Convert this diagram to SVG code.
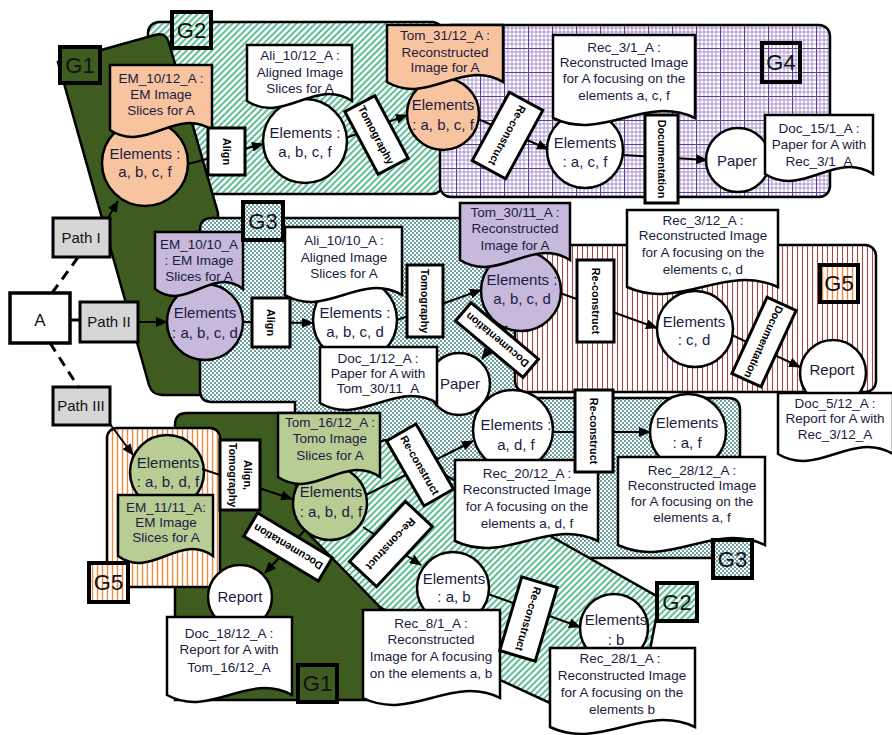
<svg xmlns="http://www.w3.org/2000/svg" width="892" height="735" viewBox="0 0 892 735">
<defs>
  <pattern id="hatch" width="4.5" height="4.5" patternUnits="userSpaceOnUse" patternTransform="rotate(45)">
    <rect width="4.5" height="4.5" fill="#fff"/>
    <line x1="1.2" y1="0" x2="1.2" y2="4.5" stroke="#3fb07f" stroke-width="1.7"/>
  </pattern>
  <pattern id="dots" width="4" height="4" patternUnits="userSpaceOnUse">
    <rect width="4" height="4" fill="#fff"/>
    <circle cx="1" cy="1" r="1" fill="#3d8383"/>
    <circle cx="3" cy="3" r="1" fill="#3d8383"/>
  </pattern>
  <pattern id="grid" width="24" height="24" patternUnits="userSpaceOnUse">
    <rect width="24" height="24" fill="#fff"/>
    <path d="M4,0V24M8,0V24M12,0V24M16,0V24M20,0V24M0,4H24M0,8H24M0,12H24M0,16H24M0,20H24" stroke="#9478c4" stroke-width="0.8"/>
    <path d="M0.5,0V24M0,0.5H24" stroke="#5e3f92" stroke-width="1.2"/>
  </pattern>
  <pattern id="brown" width="5" height="5" patternUnits="userSpaceOnUse">
    <rect width="5" height="5" fill="#fff"/>
    <line x1="2.5" y1="0" x2="2.5" y2="5" stroke="#a44848" stroke-width="1.1"/>
  </pattern>
  <pattern id="orange" width="5" height="5" patternUnits="userSpaceOnUse">
    <rect width="5" height="5" fill="#fff"/>
    <line x1="2.5" y1="0" x2="2.5" y2="5" stroke="#ee8a3c" stroke-width="1.4"/>
  </pattern>
  <marker id="arr" markerWidth="12" markerHeight="10" refX="11" refY="5" orient="auto" markerUnits="userSpaceOnUse">
    <path d="M0,0 L12,5 L0,10 Z" fill="#000"/>
  </marker>
</defs>
<style>
  .rg{stroke:#000;stroke-width:2.5}
  .gl{stroke:#000;stroke-width:4}
  .gt{font-family:'Liberation Sans','Noto Sans',Arial,sans-serif;font-size:22px;fill:#111;text-anchor:middle}
  .sh{stroke:#000;stroke-width:2.5}
  .w{fill:#fff}
  .or{fill:#f8c4a0}
  .lv{fill:#c6b9dc}
  .gr{fill:#b8cd93}
  .t{font-family:'Liberation Sans','Noto Sans',Arial,sans-serif;font-size:13.5px;fill:#1b1b40;text-anchor:middle}
  .c{font-size:15px}
  .p{font-size:15px;fill:#111}
  .lb{fill:#fff;stroke:#000;stroke-width:3}
  .lt{font-size:10.8px;font-weight:bold;fill:#000}
  .cn{fill:none;stroke:#000;stroke-width:2}
  .ar{marker-end:url(#arr)}
  .ds{stroke-dasharray:10 7;stroke-width:3}
  .pb{fill:#d6d6d6;stroke:#000;stroke-width:3}
</style>

<g id="regions">
  <rect id="G2-top" class="rg" x="148" y="22" width="295" height="172" rx="11" fill="url(#hatch)"/>
  <rect id="G4" class="rg" x="440" y="25" width="390" height="172" rx="11" fill="url(#grid)"/>
  <path id="G1-top" class="rg" fill="#3e5c1f" d="M58,62 L155,35 Q166,32 169,43 L218,213 V395 H162 Q152,395 149,385 Z"/>
  <path id="G3" class="rg" fill="url(#dots)" d="M212,218 H525 V398 H728 Q740,398 740,410 V546 Q740,558 728,558 H295 V402 H212 Q200,402 200,390 V230 Q200,218 212,218 Z"/>
  <rect id="G5-right" class="rg" x="515" y="245" width="361" height="147" rx="11" fill="url(#brown)"/>
  <path id="G1-bottom" class="rg" fill="#3e5c1f" d="M187,413 H300 V522 L380,607 V700 H175 V425 Q175,413 187,413 Z"/>
  <rect id="G5-left" class="rg" x="107" y="428" width="113" height="159" rx="10" fill="url(#orange)"/>
  <path id="G2-bottom" class="rg" fill="url(#hatch)" d="M295,470 L385,440 L545,533 L660,598 L650,650 L550,703 L500,680 L380,607 L300,525 Z"/>
</g>

<g id="paths">
  <g id="node-A"><rect x="10" y="293" width="60" height="50" fill="#fff" stroke="#000" stroke-width="3.5"/><text class="t p" x="40" y="326" style="font-size:17px">A</text></g>
  <g id="path-I"><rect class="pb" x="53" y="218" width="57" height="39"/><text class="t p" x="81" y="243">Path I</text></g>
  <g id="path-II"><rect class="pb" x="80" y="302" width="58" height="40"/><text class="t p" x="109" y="327">Path II</text></g>
  <g id="path-III"><rect class="pb" x="53" y="387" width="57" height="38"/><text class="t p" x="81" y="411">Path III</text></g>
</g>

<g id="nodes">
  <g id="EM_10_12_A">
    <circle class="sh or" cx="145" cy="163" r="43"/>
    <path class="sh or" d="M110,65 H212 V130 C176.3,106 145.7,154 110,130 Z"/>
    <text class="t" x="161" y="83">EM_10/12_A :</text><text class="t" x="161" y="99">EM Image</text><text class="t" x="161" y="115">Slices for A</text>
    <text class="t c" x="145" y="159">Elements :</text><text class="t c" x="145" y="177">a, b, c, f</text>
  </g>
  <g id="Ali_10_12_A">
    <circle class="sh w" cx="305" cy="141" r="42"/>
    <path class="sh w" d="M247,45 H352 V101 C315.25,77 283.75,125 247,101 Z"/>
    <text class="t" x="300" y="60">Ali_10/12_A :</text><text class="t" x="300" y="77">Aligned Image</text><text class="t" x="300" y="93">Slices for A</text>
    <text class="t c" x="305" y="138">Elements :</text><text class="t c" x="305" y="157">a, b, c, f</text>
  </g>
  <g id="Tom_31_12_A">
    <circle class="sh or" cx="443" cy="114" r="36"/>
    <path class="sh or" d="M387,25 H503 V82 C462.4,58 427.6,106 387,82 Z"/>
    <text class="t" x="445" y="40">Tom_31/12_A :</text><text class="t" x="445" y="57">Reconstructed</text><text class="t" x="445" y="72">Image for A</text>
    <text class="t c" x="443" y="110">Elements</text><text class="t c" x="443" y="130">: a, b, c, f</text>
  </g>
  <g id="Rec_3_1_A">
    <circle class="sh w" cx="585" cy="150" r="38"/>
    <path class="sh w" d="M553,35 H695 V118 C645.3,94 602.7,142 553,118 Z"/>
    <text class="t" x="624" y="52">Rec_3/1_A :</text><text class="t" x="624" y="67">Reconstructed Image</text><text class="t" x="624" y="83">for A focusing on the</text><text class="t" x="624" y="100">elements a, c, f</text>
    <text class="t c" x="585" y="148">Elements</text><text class="t c" x="585" y="167">: a, c, f</text>
  </g>
  <g id="Doc_15_1_A">
    <circle class="sh w" cx="738" cy="160" r="32"/>
    <path class="sh w" d="M765,115 H873 V174 C835.2,150 802.8,198 765,174 Z"/>
    <text class="t" x="819" y="133">Doc_15/1_A :</text><text class="t" x="819" y="149">Paper for A with</text><text class="t" x="819" y="166">Rec_3/1_A</text>
    <text class="t c" x="737" y="166">Paper</text>
  </g>
  <g id="EM_10_10_A">
    <circle class="sh lv" cx="205" cy="322" r="38"/>
    <path class="sh lv" d="M155,232 H243 V289 C212.2,265 185.8,313 155,289 Z"/>
    <text class="t" x="199" y="249">EM_10/10_A</text><text class="t" x="199" y="265">: EM Image</text><text class="t" x="199" y="281">Slices for A</text>
    <text class="t c" x="205" y="318">Elements</text><text class="t c" x="205" y="338">: a, b, c, d</text>
  </g>
  <g id="Ali_10_10_A">
    <circle class="sh w" cx="355" cy="320" r="42"/>
    <path class="sh w" d="M285,227 H402 V295 C361.05,271 325.95,319 285,295 Z"/>
    <text class="t" x="344" y="245">Ali_10/10_A :</text><text class="t" x="344" y="262">Aligned Image</text><text class="t" x="344" y="278">Slices for A</text>
    <text class="t c" x="355" y="318">Elements :</text><text class="t c" x="355" y="337">a, b, c, d</text>
  </g>
  <g id="Tom_30_11_A">
    <circle class="sh lv" cx="521" cy="291" r="40"/>
    <path class="sh lv" d="M460,203 H570 V260 C531.5,236 498.5,284 460,260 Z"/>
    <text class="t" x="515" y="217">Tom_30/11_A :</text><text class="t" x="515" y="233">Reconstructed</text><text class="t" x="515" y="250">Image for A</text>
    <text class="t c" x="522" y="285">Elements :</text><text class="t c" x="522" y="304">a, b, c, d</text>
  </g>
  <g id="Doc_1_12_A">
    <circle class="sh w" cx="459" cy="384" r="31"/>
    <path class="sh w" d="M320,347 H437 V403 C396.05,379 360.95,427 320,403 Z"/>
    <text class="t" x="378" y="363">Doc_1/12_A :</text><text class="t" x="378" y="378">Paper for A with</text><text class="t" x="378" y="393">Tom_30/11_A</text>
    <text class="t c" x="460" y="389">Paper</text>
  </g>
  <g id="Rec_3_12_A">
    <circle class="sh w" cx="695" cy="329" r="38"/>
    <path class="sh w" d="M627,210 H778 V287 C725.15,263 679.85,311 627,287 Z"/>
    <text class="t" x="703" y="225">Rec_3/12_A :</text><text class="t" x="703" y="240">Reconstructed Image</text><text class="t" x="703" y="257">for A focusing on the</text><text class="t" x="703" y="274">elements c, d</text>
    <text class="t c" x="694" y="327">Elements</text><text class="t c" x="694" y="345">: c, d</text>
  </g>
  <g id="Doc_5_12_A">
    <circle class="sh w" cx="833" cy="373" r="33"/>
    <path class="sh w" d="M778,393 H893 V454 C852.1,430 817.9,478 778,454 Z"/>
    <text class="t" x="835" y="408">Doc_5/12_A :</text><text class="t" x="835" y="423">Report for A with</text><text class="t" x="835" y="439">Rec_3/12_A</text>
    <text class="t c" x="832" y="375">Report</text>
  </g>
  <g id="EM_11_11_A">
    <circle class="sh gr" cx="167" cy="472" r="37"/>
    <path class="sh gr" d="M118,495 H213 V556 C179.75,532 151.25,580 118,556 Z"/>
    <text class="t" x="166" y="512">EM_11/11_A:</text><text class="t" x="166" y="527">EM Image</text><text class="t" x="166" y="542">Slices for A</text>
    <text class="t c" x="168" y="468">Elements</text><text class="t c" x="168" y="487">: a, b, d, f</text>
  </g>
  <g id="Tom_16_12_A">
    <circle class="sh gr" cx="330" cy="503" r="37"/>
    <path class="sh gr" d="M278,413 H380 V477 C344.3,453 313.7,501 278,477 Z"/>
    <text class="t" x="330" y="427">Tom_16/12_A :</text><text class="t" x="330" y="443">Tomo Image</text><text class="t" x="330" y="460">Slices for A</text>
    <text class="t c" x="331" y="497">Elements</text><text class="t c" x="331" y="517">: a, b, d, f</text>
  </g>
  <g id="Doc_18_12_A">
    <circle class="sh w" cx="240" cy="597" r="32"/>
    <path class="sh w" d="M167,617 H292 V695 C248.25,671 210.75,719 167,695 Z"/>
    <text class="t" x="229" y="638">Doc_18/12_A :</text><text class="t" x="229" y="654">Report for A with</text><text class="t" x="229" y="672">Tom_16/12_A</text>
    <text class="t c" x="240" y="602">Report</text>
  </g>
  <g id="Rec_20_12_A">
    <circle class="sh w" cx="513" cy="430" r="40"/>
    <path class="sh w" d="M455,460 H598 V541 C547.95,517 505.05,565 455,541 Z"/>
    <text class="t" x="527" y="478">Rec_20/12_A :</text><text class="t" x="527" y="494">Reconstructed Image</text><text class="t" x="527" y="511">for A focusing on the</text><text class="t" x="527" y="528">elements a, d, f</text>
    <text class="t c" x="516" y="430">Elements :</text><text class="t c" x="516" y="450">a, d, f</text>
  </g>
  <g id="Rec_28_12_A">
    <circle class="sh w" cx="688" cy="432" r="38"/>
    <path class="sh w" d="M618,457 H765 V545 C713.55,521 669.45,569 618,545 Z"/>
    <text class="t" x="692" y="475">Rec_28/12_A :</text><text class="t" x="692" y="490">Reconstructed Image</text><text class="t" x="692" y="506">for A focusing on the</text><text class="t" x="692" y="522">elements a, f</text>
    <text class="t c" x="687" y="428">Elements</text><text class="t c" x="687" y="448">: a, f</text>
  </g>
  <g id="Rec_8_1_A">
    <circle class="sh w" cx="453" cy="588" r="36"/>
    <path class="sh w" d="M363,610 H500 V698 C452.05,674 410.95,722 363,698 Z"/>
    <text class="t" x="431" y="628">Rec_8/1_A :</text><text class="t" x="431" y="644">Reconstructed</text><text class="t" x="431" y="661">Image for A focusing</text><text class="t" x="431" y="678">on the elements a, b</text>
    <text class="t c" x="454" y="584">Elements</text><text class="t c" x="454" y="602">: a, b</text>
  </g>
  <g id="Rec_28_1_A">
    <circle class="sh w" cx="614" cy="628" r="34"/>
    <path class="sh w" d="M550,648 H695 V727 C644.25,703 600.75,751 550,727 Z"/>
    <text class="t" x="620" y="663">Rec_28/1_A :</text><text class="t" x="622" y="680">Reconstructed Image</text><text class="t" x="622" y="697">for A focusing on the</text><text class="t" x="622" y="714">elements b</text>
    <text class="t c" x="616" y="625">Elements</text><text class="t c" x="616" y="645">: b</text>
  </g>
</g>

<g id="connectors">
  <path class="cn ds" d="M52,293 L79,256"/>
  <path class="cn ds" d="M50,343 L79,388"/>
  <path class="cn" style="stroke-width:3" d="M70,320 H80"/>
  <path class="cn ar" d="M108,218 L118,201"/>
  <path class="cn ar" d="M138,322 H167"/>
  <path class="cn ar" d="M110,424 L133,455"/>
  <path class="cn ar" d="M188,164 L263,144"/>
  <path class="cn ar" d="M346,138 L407,115"/>
  <path class="cn ar" d="M478,119 L548,149"/>
  <path class="cn ar" d="M623,155 L707,160"/>
  <path class="cn ar" d="M243,322 L313,323"/>
  <path class="cn ar" d="M397,320 L481,290"/>
  <path class="cn ar" d="M507,326 L482,359"/>
  <path class="cn ar" d="M560,293 L657,328"/>
  <path class="cn ar" d="M732,335 L800,367"/>
  <path class="cn ar" d="M202,469 L292,499"/>
  <path class="cn ar" d="M366,495 L473,441"/>
  <path class="cn ar" d="M305,530 L265,573"/>
  <path class="cn ar" d="M363,527 L421,565"/>
  <path class="cn ar" d="M552,432 L650,432"/>
  <path class="cn ar" d="M488,594 L580,627"/>

  <g transform="translate(226.5,151.5) rotate(90)"><rect class="lb" x="-23.5" y="-18.5" width="47" height="37"/><text class="t lt" x="0" y="4">Align</text></g>
  <g transform="translate(376.5,135) rotate(62)"><rect class="lb" x="-35.5" y="-17" width="71" height="34"/><text class="t lt" x="0" y="4">Tomography</text></g>
  <g transform="translate(507.5,135.5) rotate(118.5)"><rect class="lb" x="-39" y="-19" width="78" height="38"/><text class="t lt" x="0" y="4">Re-construct</text></g>
  <g transform="translate(661.5,159) rotate(90)"><rect class="lb" x="-44" y="-16.5" width="88" height="33"/><text class="t lt" x="0" y="4">Documentation</text></g>
  <g transform="translate(271,322.5) rotate(90)"><rect class="lb" x="-24.5" y="-19" width="49" height="38"/><text class="t lt" x="0" y="4">Align</text></g>
  <g transform="translate(425,301) rotate(90)"><rect class="lb" x="-36" y="-18" width="72" height="36"/><text class="t lt" x="0" y="4">Tomography</text></g>
  <g transform="translate(497,340) rotate(220)"><rect class="lb" x="-44" y="-12" width="88" height="24"/><text class="t lt" x="0" y="4">Documentation</text></g>
  <g transform="translate(595.5,301) rotate(90)"><rect class="lb" x="-41" y="-18.5" width="82" height="37"/><text class="t lt" x="0" y="4">Re-construct</text></g>
  <g transform="translate(764,342) rotate(114.7)"><rect class="lb" x="-42" y="-16" width="84" height="32"/><text class="t lt" x="0" y="4">Documentation</text></g>
  <g transform="translate(240,475) rotate(90)"><rect class="lb" x="-35" y="-20" width="70" height="40"/><text class="t lt" x="0" y="-4">Align,</text><text class="t lt" x="0" y="11">Tomography</text></g>
  <g transform="translate(288,547) rotate(211)"><rect class="lb" x="-43.5" y="-13.5" width="87" height="27"/><text class="t lt" x="0" y="4">Documentation</text></g>
  <g transform="translate(420,465) rotate(60)"><rect class="lb" x="-37.5" y="-17" width="75" height="34"/><text class="t lt" x="0" y="4">Re-construct</text></g>
  <g transform="translate(391,544) rotate(133)"><rect class="lb" x="-41" y="-18.5" width="82" height="37"/><text class="t lt" x="0" y="4">Re-construct</text></g>
  <g transform="translate(594,431) rotate(90)"><rect class="lb" x="-41" y="-19" width="82" height="38"/><text class="t lt" x="0" y="4">Re-construct</text></g>
  <g transform="translate(528.5,619) rotate(106.6)"><rect class="lb" x="-38.5" y="-18.5" width="77" height="37"/><text class="t lt" x="0" y="4">Re-construct</text></g>
</g>

<g id="group-labels">
  <g id="lbl-G1a"><rect class="gl" x="60" y="47" width="40" height="36" fill="#3e5c1f"/><text class="gt" x="80" y="73">G1</text></g>
  <g id="lbl-G2a"><rect class="gl" x="172" y="12" width="39" height="36" fill="url(#hatch)"/><text class="gt" x="191.5" y="38">G2</text></g>
  <g id="lbl-G4"><rect class="gl" x="762" y="43" width="38" height="39" fill="url(#grid)"/><text class="gt" x="781" y="70">G4</text></g>
  <g id="lbl-G3a"><rect class="gl" x="243" y="202" width="40" height="38" fill="url(#dots)"/><text class="gt" x="263" y="229">G3</text></g>
  <g id="lbl-G5a"><rect class="gl" x="820" y="265" width="38" height="37" fill="url(#orange)"/><text class="gt" x="839" y="291">G5</text></g>
  <g id="lbl-G5b"><rect class="gl" x="89" y="563" width="39" height="39" fill="url(#orange)"/><text class="gt" x="108.5" y="590">G5</text></g>
  <g id="lbl-G1b"><rect class="gl" x="298" y="665" width="39" height="37" fill="#3e5c1f"/><text class="gt" x="317.5" y="691">G1</text></g>
  <g id="lbl-G2b"><rect class="gl" x="657" y="583" width="40" height="38" fill="url(#hatch)"/><text class="gt" x="677" y="610">G2</text></g>
  <g id="lbl-G3b"><rect class="gl" x="713" y="540" width="39" height="38" fill="url(#dots)"/><text class="gt" x="732.5" y="567">G3</text></g>
</g>
</svg>
